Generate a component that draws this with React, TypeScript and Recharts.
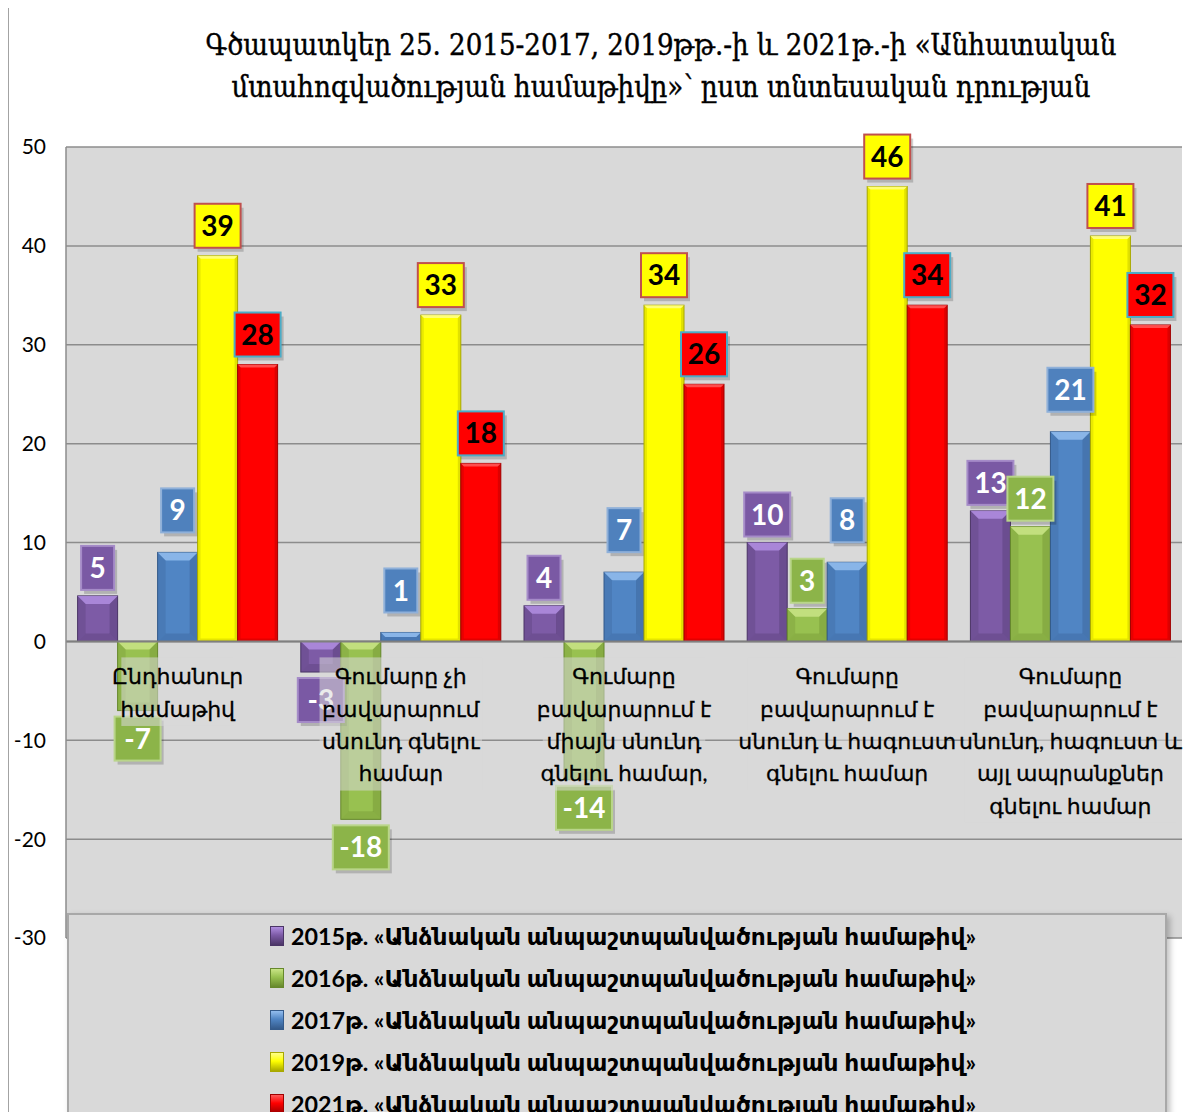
import React from "react";
import { Bar, BarChart, CartesianGrid, LabelList, Legend, ReferenceLine, XAxis, YAxis } from "recharts";

const categories = [
  "Ընդհանուր\nհամաթիվ",
  "Գումարը չի\nբավարարում\nսնունդ գնելու\nհամար",
  "Գումարը\nբավարարում է\nմիայն սնունդ\nգնելու համար,",
  "Գումարը\nբավարարում է\nսնունդ և հագուստ\nգնելու համար",
  "Գումարը\nբավարարում է\nսնունդ, հագուստ և\nայլ ապրանքներ\nգնելու համար",
];

const v2015 = [4.6, -3.1, 3.6, 10, 13.2];
const v2016 = [-7, -18, -14, 3.3, 11.6];
const v2017 = [9, 0.9, 7, 8, 21.2];
const v2019 = [39, 33, 34, 46, 41];
const v2021 = [28, 18, 26, 34, 32];

const yTicks = [-30, -20, -10, 0, 10, 20, 30, 40, 50];

const seriesNames = [
  "2015թ. «Անձնական անպաշտպանվածության համաթիվ»",
  "2016թ. «Անձնական անպաշտպանվածության համաթիվ»",
  "2017թ. «Անձնական անպաշտպանվածության համաթիվ»",
  "2019թ. «Անձնական անպաշտպանվածության համաթիվ»",
  "2021թ. «Անձնական անպաշտպանվածության համաթիվ»",
];

const TITLE_1 = "Գծապատկեր 25. 2015-2017, 2019թթ.-ի և 2021թ.-ի «Անհատական";
const TITLE_2 = "մտահոգվածության համաթիվը»՝ ըստ տնտեսական դրության";

const SANS = "Lato, 'DejaVu Sans', sans-serif";

const SERIES = [
  { key: "s2015", name: seriesNames[0], values: v2015, fill: "#7d5ba6", light: "#b08ee0", dark: "#4b3566", box: "#7a59a4", boxStroke: "#a58bc8", text: "#fff", gap: 6, bevel: true },
  { key: "s2016", name: seriesNames[1], values: v2016, fill: "#98c150", light: "#c9e486", dark: "#66882c", box: "#8cb449", boxStroke: "#b9d58a", text: "#fff", gap: 6, bevel: true },
  { key: "s2017", name: seriesNames[2], values: v2017, fill: "#5085c4", light: "#93bdee", dark: "#345a8a", box: "#4f81bd", boxStroke: "#8fb0d9", text: "#fff", gap: 20, bevel: true },
  { key: "s2019", name: seriesNames[3], values: v2019, fill: "#ffff00", light: "#ffff8a", dark: "#a8a800", box: "#ffff00", boxStroke: "#c0504d", text: "#000", gap: 8, bevel: false },
  { key: "s2021", name: seriesNames[4], values: v2021, fill: "#ff0000", light: "#ff5a5a", dark: "#a00000", box: "#ff0000", boxStroke: "#4bacc6", text: "#000", gap: 8, bevel: false },
];

const data = categories.map((name, i) => {
  const row: Record<string, any> = { name, anchor: 0 };
  SERIES.forEach((s) => (row[s.key] = s.values[i]));
  return row;
});

function BevelBar(props: any) {
  const { x, y, width, height, s } = props;
  if (x == null || !width) return null;
  const top = Math.min(y, y + height);
  const h = Math.abs(height);
  const b = s.bevel ? Math.min(8, h / 2, width / 4) : Math.min(3, h / 2);
  return (
    <g>
      <rect x={x} y={top} width={width} height={h} fill={s.fill} stroke={s.dark} strokeWidth={1} />
      <polygon points={`${x},${top} ${x + width},${top} ${x + width - b},${top + b} ${x + b},${top + b}`} fill={s.light} opacity={0.85} />
      <polygon points={`${x},${top} ${x + b},${top + b} ${x + b},${top + h - b} ${x},${top + h}`} fill={s.dark} opacity={0.25} />
      <polygon points={`${x + width},${top} ${x + width - b},${top + b} ${x + width - b},${top + h - b} ${x + width},${top + h}`} fill={s.dark} opacity={0.35} />
      <polygon points={`${x},${top + h} ${x + b},${top + h - b} ${x + width - b},${top + h - b} ${x + width},${top + h}`} fill={s.dark} opacity={0.3} />
    </g>
  );
}

function ValueBox(props: any) {
  const { x, y, width, height, value, s } = props;
  const v = Array.isArray(value) ? value[1] : value;
  if (v == null || x == null) return null;
  const top = Math.min(y, y + height);
  const bottom = Math.max(y, y + height);
  const text = String(Math.round(v));
  const w = text.length === 1 ? 33 : text.length === 2 ? 46 : 56;
  const h = 44;
  const cx = x + width / 2;
  const by = v >= 0 ? top - s.gap - h : bottom + s.gap;
  return (
    <g>
      <rect x={cx - w / 2 + 3} y={by + 4} width={w} height={h} fill="#000" opacity={0.18} />
      <rect x={cx - w / 2} y={by} width={w} height={h} fill={s.box} stroke={s.boxStroke} strokeWidth={2} />
      <text x={cx} y={by + h / 2} dy="0.36em" textAnchor="middle" fontFamily={SANS} fontWeight={700} fontSize={28} fill={s.text}>
        {text}
      </text>
    </g>
  );
}

function CategoryLabel(props: any) {
  const { x, y, width, value } = props;
  if (x == null) return null;
  const lines = String(value).split("\n");
  const cx = x + width / 2;
  const maxLen = Math.max(...lines.map((l) => l.length));
  const bw = maxLen * 12.5;
  return (
    <g>
      <rect x={cx - bw / 2} y={y + 17} width={bw} height={lines.length * 32.3 + 4} fill="#d9d9d9" fillOpacity={0.55} />
      <text textAnchor="middle" fontFamily={SANS} fontSize={22} fill="#000" stroke="#000" strokeWidth={0.3}>
        {lines.map((l, i) => (
          <tspan key={i} x={cx} y={y + 44 + i * 32.3}>
            {l}
          </tspan>
        ))}
      </text>
    </g>
  );
}

function LegendBox() {
  return (
    <div
      style={{
        width: 1100,
        height: 220,
        boxSizing: "border-box",
        background: "#d9d9d9",
        border: "2px solid #a8a8a8",
        boxShadow: "3px 3px 6px rgba(0,0,0,0.25)",
        paddingTop: 0,
        paddingLeft: 201,
      }}
    >
      {SERIES.map((s) => (
        <div key={s.key} style={{ height: 42, display: "flex", alignItems: "center" }}>
          <span
            style={{
              display: "inline-block",
              width: 14,
              height: 20,
              marginRight: 7,
              background: `linear-gradient(${s.light}, ${s.fill} 45%, ${s.dark})`,
              border: `1px solid ${s.dark}`,
              boxSizing: "border-box",
            }}
          />
          <span style={{ fontFamily: SANS, fontWeight: 700, fontSize: 23.3, color: "#000" }}>{s.name}</span>
        </div>
      ))}
    </div>
  );
}

export default function App() {
  return (
    <div style={{ position: "relative", margin: -8, width: 1192, height: 1120, overflow: "hidden", background: "#fff" }}>
      <div
        style={{
          position: "absolute",
          left: 7,
          top: 6,
          width: 1181,
          height: 1140,
          border: "2px solid #a3a3a3",
          boxSizing: "border-box",
        }}
      />
      <div
        style={{
          position: "absolute",
          left: 130,
          top: 24,
          width: 1062,
          textAlign: "center",
          fontFamily: "'DejaVu Serif Condensed', 'DejaVu Serif', 'Liberation Serif', serif",
          fontStretch: "condensed",
          fontSize: 29,
          lineHeight: "42px",
          color: "#000",
          WebkitTextStroke: "0.4px #000",
          zIndex: 2,
        }}
      >
        <div>{TITLE_1}</div>
        <div>{TITLE_2}</div>
      </div>
      <div style={{ position: "absolute", left: 0, top: 0 }}>
        <BarChart
          width={1192}
          height={1120}
          data={data}
          margin={{ top: 147, right: 10, left: 6, bottom: 182 }}
          barCategoryGap="5.2%"
          barGap={0}
        >
          <CartesianGrid vertical={false} fill="#d9d9d9" stroke="#8c8c8c" strokeWidth={1.5} />
          <XAxis dataKey="name" hide />
          <XAxis dataKey="name" xAxisId="lbl" hide />
          <YAxis
            width={60}
            domain={[-30, 50]}
            ticks={yTicks}
            interval={0}
            axisLine={{ stroke: "#8c8c8c", strokeWidth: 1.5 }}
            tickLine={false}
            tickSize={0}
            tickMargin={20}
            tick={{ fontFamily: SANS, fontSize: 21, fill: "#000" }}
          />
          <ReferenceLine y={0} stroke="#7f7f7f" strokeWidth={2} />
          {SERIES.map((s) => (
            <Bar
              key={s.key}
              dataKey={s.key}
              name={s.name}
              fill={s.fill}
              isAnimationActive={false}
              shape={(p: any) => <BevelBar {...p} s={s} />}
            >
              <LabelList dataKey={s.key} content={(p: any) => <ValueBox {...p} s={s} />} />
            </Bar>
          ))}
          <Bar dataKey="anchor" xAxisId="lbl" fill="none" legendType="none" minPointSize={1} isAnimationActive={false}>
            <LabelList dataKey="name" content={(p: any) => <CategoryLabel {...p} />} />
          </Bar>
          <Legend
            layout="horizontal"
            verticalAlign="middle"
            align="center"
            wrapperStyle={{ left: 67, top: 913, width: 1100 }}
            content={() => <LegendBox />}
          />
        </BarChart>
      </div>
    </div>
  );
}
